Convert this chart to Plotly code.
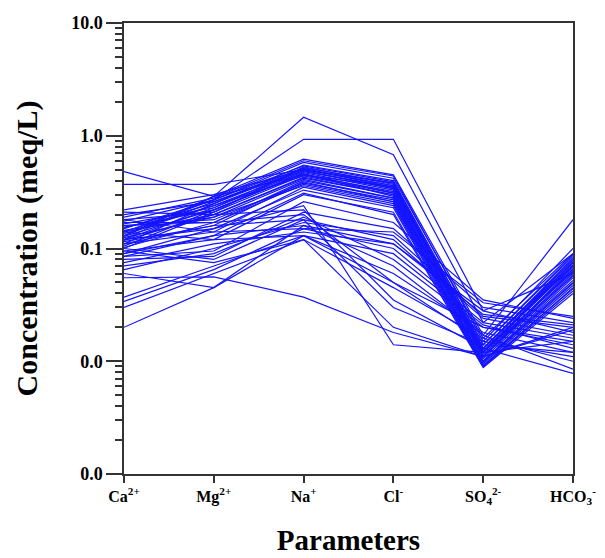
import plotly.graph_objects as go

# ions on the x axis
params = ["Ca<sup>2+</sup>", "Mg<sup>2+</sup>", "Na<sup>+</sup>", "Cl<sup>-</sup>",
          "SO<sub>4</sub><sup>2-</sup>", "HCO<sub>3</sub><sup>-</sup>"]

# concentrations (meq/L), one value per sample
ca = [0.12, 0.14, 0.48, 0.37, 0.020, 0.055,
      0.10, 0.13, 0.16, 0.12, 0.19, 0.09, 0.14, 0.11, 0.17, 0.22, 0.105, 0.125,
      0.15, 0.085, 0.135, 0.18, 0.115, 0.095, 0.20, 0.155, 0.13, 0.11, 0.145, 0.165,
      0.118, 0.142, 0.175, 0.102, 0.128, 0.152,
      0.037, 0.034, 0.030, 0.065, 0.07, 0.075, 0.08, 0.09, 0.10, 0.12, 0.14, 0.16,
      0.18, 0.21, 0.095, 0.06, 0.085, 0.11]
mg = [0.29, 0.27, 0.29, 0.37, 0.045, 0.056,
      0.21, 0.26, 0.18, 0.23, 0.28, 0.15, 0.20, 0.25, 0.17, 0.30, 0.22, 0.19,
      0.27, 0.13, 0.24, 0.21, 0.16, 0.12, 0.26, 0.22, 0.29, 0.14, 0.19, 0.23,
      0.20, 0.24, 0.27, 0.17, 0.22, 0.25,
      0.07, 0.065, 0.06, 0.10, 0.09, 0.11, 0.085, 0.13, 0.08, 0.15, 0.12, 0.17,
      0.14, 0.20, 0.075, 0.045, 0.095, 0.16]
na = [1.46, 0.93, 0.45, 0.50, 0.13, 0.037,
      0.45, 0.52, 0.38, 0.48, 0.60, 0.33, 0.42, 0.55, 0.40, 0.50, 0.47, 0.36,
      0.58, 0.31, 0.44, 0.53, 0.39, 0.30, 0.49, 0.46, 0.62, 0.35, 0.41, 0.51,
      0.43, 0.49, 0.54, 0.37, 0.46, 0.51,
      0.13, 0.15, 0.12, 0.17, 0.19, 0.14, 0.21, 0.16, 0.18, 0.24, 0.13, 0.20,
      0.15, 0.22, 0.12, 0.16, 0.26, 0.18]
cl = [0.68, 0.93, 0.35, 0.38, 0.05, 0.018,
      0.32, 0.38, 0.27, 0.35, 0.44, 0.23, 0.30, 0.40, 0.28, 0.36, 0.33, 0.25,
      0.42, 0.20, 0.31, 0.37, 0.26, 0.21, 0.34, 0.29, 0.45, 0.24, 0.28, 0.36,
      0.30, 0.34, 0.39, 0.26, 0.31, 0.35,
      0.06, 0.10, 0.045, 0.13, 0.08, 0.11, 0.15, 0.07, 0.12, 0.014, 0.09, 0.05,
      0.14, 0.035, 0.02, 0.11, 0.17, 0.03]
so4 = [0.022, 0.028, 0.012, 0.013, 0.020, 0.011,
       0.011, 0.013, 0.010, 0.012, 0.015, 0.009, 0.011, 0.014, 0.010, 0.012, 0.011, 0.0095,
       0.016, 0.0088, 0.012, 0.013, 0.010, 0.009, 0.012, 0.011, 0.017, 0.0092, 0.0105, 0.013,
       0.0115, 0.0125, 0.014, 0.0098, 0.011, 0.012,
       0.018, 0.022, 0.016, 0.025, 0.020, 0.028, 0.030, 0.017, 0.024, 0.012, 0.021, 0.015,
       0.033, 0.013, 0.011, 0.026, 0.035, 0.014]
hco3 = [0.09, 0.06, 0.07, 0.075, 0.015, 0.020,
        0.065, 0.08, 0.05, 0.07, 0.10, 0.042, 0.06, 0.085, 0.055, 0.075, 0.068, 0.047,
        0.09, 0.04, 0.062, 0.078, 0.052, 0.045, 0.072, 0.058, 0.18, 0.044, 0.057, 0.082,
        0.063, 0.071, 0.088, 0.049, 0.066, 0.076,
        0.012, 0.016, 0.010, 0.020, 0.014, 0.018, 0.022, 0.0085, 0.017, 0.015, 0.013, 0.011,
        0.025, 0.0078, 0.019, 0.021, 0.024, 0.012]

ytick_vals = [10, 1, 0.1, 0.01, 0.001]
ytick_text = ["10.0", "1.0", "0.1", "0.0", "0.0"]

serif = "Times New Roman, Liberation Serif, serif"

fig = go.Figure()
xs = list(range(len(params)))
for i in range(len(ca)):
    fig.add_trace(go.Scatter(
        x=xs, y=[ca[i], mg[i], na[i], cl[i], so4[i], hco3[i]],
        mode="lines", line=dict(color="#1414ff", width=1.2),
        showlegend=False, hoverinfo="skip"))

# page body adds an 8px margin, so the figure is a bit smaller than the window
fig.update_layout(
    width=597, height=550,
    margin=dict(l=116, r=32, t=15, b=84),
    plot_bgcolor="white", paper_bgcolor="white",
    font=dict(family=serif, color="black"),
)
fig.update_xaxes(
    range=[0, 5], tickvals=xs, ticktext=params, automargin=False,
    ticks="outside", ticklen=7, tickcolor="#333", tickwidth=1.5,
    showline=True, linecolor="#333", linewidth=1.5, mirror=True,
    showgrid=False, zeroline=False,
    tickfont=dict(size=16, weight="bold"),
    title=dict(text="Parameters", font=dict(size=29, weight="bold"), standoff=23),
)
fig.update_yaxes(
    type="log", range=[-3, 1], automargin=False,
    tickvals=ytick_vals, ticktext=ytick_text,
    ticks="outside", ticklen=16, tickcolor="#333", tickwidth=1.5,
    minor=dict(ticks="outside", ticklen=7, dtick="D1", tickcolor="#333", tickwidth=1.5, showgrid=False),
    showline=True, linecolor="#333", linewidth=1.5, mirror=True,
    showgrid=False, zeroline=False,
    tickfont=dict(size=18, weight="bold"),
    title=dict(text="Concentration (meq/L)", font=dict(size=30, weight="bold"), standoff=25),
)

fig.write_html("out.html")
